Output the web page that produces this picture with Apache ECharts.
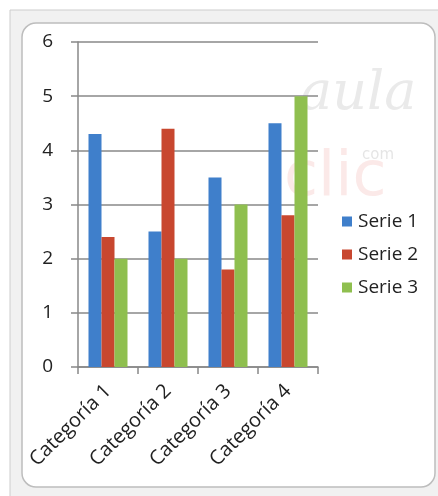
<!DOCTYPE html>
<html>
<head>
<meta charset="utf-8">
<script src="https://cdn.jsdelivr.net/npm/echarts@6/dist/echarts.min.js"></script>
<style>
html,body{margin:0;padding:0;background:#fff;}
#main{width:438px;height:496px;}
</style>
</head>
<body>
<div id="main"></div>
<script>
var categorias=['Categoría 1','Categoría 2','Categoría 3','Categoría 4'];
var serie1=[4.3,2.5,3.5,4.5];
var serie2=[2.4,4.4,1.8,2.8];
var serie3=[2,2,3,5];
var nombres=['Serie 1','Serie 2','Serie 3'];
var colores=['#3f7fcb','#c8472f','#8fbf4f'];

var myChart=echarts.init(document.getElementById('main'))
myChart.setOption({
    animation:false,
    textStyle:{fontFamily:'"Open Sans", "DejaVu Sans", sans-serif'},
    graphic:[
        {type:'rect',z:-10,shape:{x:10,y:10,width:440,height:500},style:{fill:'#f1f1f1',stroke:'#cdcdcd',lineWidth:1}},
        {type:'rect',z:-9,shape:{x:22,y:23,width:413,height:464,r:14},style:{fill:'#fff',stroke:'#bdbdbd',lineWidth:1.5}},
        {type:'text',z:-5,left:300,top:68,style:{text:'aula',font:'italic 54px "DejaVu Serif", serif',fill:'rgba(150,150,150,0.2)'}},
        {type:'text',z:-5,left:362,top:148,style:{text:'com',font:'15px "DejaVu Sans", sans-serif',fill:'rgba(150,150,150,0.25)'}},
        {type:'text',z:-5,left:284,top:148,style:{text:'clic',font:'62px "DejaVu Sans", sans-serif',fill:'rgba(225,110,100,0.15)'}}
    ],
    legend:{
        data:nombres,
        orient:'vertical',
        left:337,
        top:207,
        itemWidth:10,
        itemHeight:10,
        itemGap:14,
        icon:'rect',
        textStyle:{fontSize:19,color:'#222',padding:[0,0,0,1]}
    },
    grid:{left:78,right:120,top:42,bottom:129,containLabel:false},
    xAxis:{
        type:'category',
        data:categorias,
        axisLine:{lineStyle:{color:'#888',width:1.5}},
        axisTick:{show:true,length:7,lineStyle:{color:'#888',width:1.5}},
        axisLabel:{rotate:45,fontSize:20,color:'#222',margin:21,interval:0}
    },
    yAxis:{
        type:'value',
        min:0,max:6,interval:1,
        axisLine:{show:true,lineStyle:{color:'#888',width:1.5}},
        axisTick:{show:true,inside:false,length:7,lineStyle:{color:'#888',width:1.5}},
        axisLabel:{fontSize:19,color:'#222',margin:25},
        splitLine:{lineStyle:{color:'#888',width:1.5}}
    },
    series:[
        {name:nombres[0],type:'bar',data:serie1,itemStyle:{color:colores[0]},barGap:'0%',barCategoryGap:'35%'},
        {name:nombres[1],type:'bar',data:serie2,itemStyle:{color:colores[1]},barGap:'0%',barCategoryGap:'35%'},
        {name:nombres[2],type:'bar',data:serie3,itemStyle:{color:colores[2]},barGap:'0%',barCategoryGap:'35%'}
    ]
})
</script>
</body>
</html>
